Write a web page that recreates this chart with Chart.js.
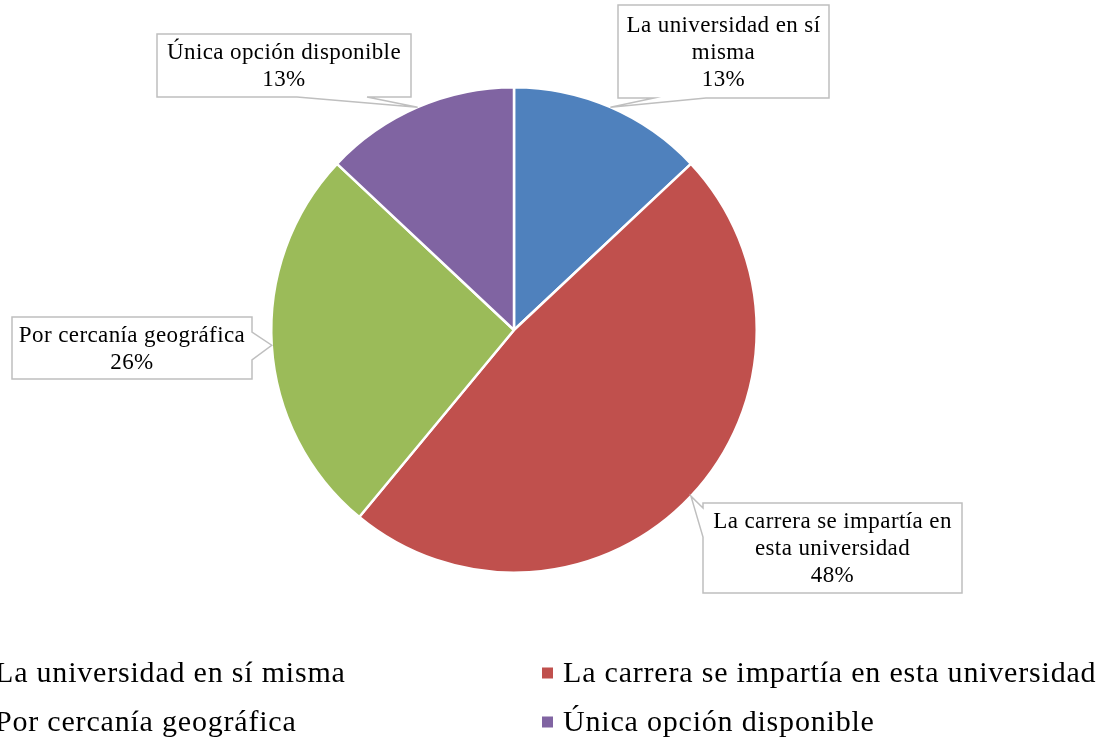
<!DOCTYPE html>
<html lang="es">
<head>
<meta charset="UTF-8">
<title>Motivo de elección de la universidad</title>
<script src="https://cdn.jsdelivr.net/npm/chart.js"></script>
<style>
  html, body { margin: 0; padding: 0; background: #fff; }
  canvas { display: block; }
</style>
</head>
<body>
<canvas id="pieChart" width="1104" height="742"></canvas>
<script>
const categories = [
  'La universidad en sí misma',
  'La carrera se impartía en esta universidad',
  'Por cercanía geográfica',
  'Única opción disponible'
];
const percentages = [13, 48, 26, 13];
// category text as it is wrapped inside the callouts
const calloutLines = [
  ['La universidad en sí', 'misma'],
  ['La carrera se impartía en', 'esta universidad'],
  ['Por cercanía geográfica'],
  ['Única opción disponible']
];
const sliceColors = ['#4F81BD', '#C0504D', '#9BBB59', '#8064A2'];

const SERIF = '"Times New Roman", "Liberation Serif", serif';

// callout boxes: [x, y, w, h], the edge the pointer leaves from and its two base points
const calloutBoxes = [
  { box: [618, 5, 211, 93], side: 'bottom', base: [[706, 98], [654, 98]] },
  { box: [703, 503, 259, 90], side: 'left', base: [[703, 537], [703, 508]] },
  { box: [12, 317, 240, 62], side: 'right', base: [[252, 332], [252, 360]] },
  { box: [157, 34, 254, 63], side: 'bottom', base: [[367, 97], [297, 97]] }
];

const calloutPlugin = {
  id: 'callouts',
  afterDatasetsDraw(chart) {
    const ctx = chart.ctx;
    const arcs = chart.getDatasetMeta(0).data;
    ctx.save();
    arcs.forEach((arc, i) => {
      const c = calloutBoxes[i];
      const p = arc.getProps(['x', 'y', 'startAngle', 'endAngle', 'outerRadius'], true);
      const mid = (p.startAngle + p.endAngle) / 2;
      const tip = [p.x + Math.cos(mid) * p.outerRadius, p.y + Math.sin(mid) * p.outerRadius];
      const [bx, by, bw, bh] = c.box;
      const corners = [[bx, by], [bx + bw, by], [bx + bw, by + bh], [bx, by + bh]];
      const insertAfter = { top: 0, right: 1, bottom: 2, left: 3 }[c.side];
      const pts = [];
      corners.forEach((pt, k) => {
        pts.push(pt);
        if (k === insertAfter) {
          pts.push(c.base[0], tip, c.base[1]);
        }
      });
      ctx.beginPath();
      pts.forEach((pt, k) => k ? ctx.lineTo(pt[0], pt[1]) : ctx.moveTo(pt[0], pt[1]));
      ctx.closePath();
      ctx.fillStyle = '#fff';
      ctx.fill();
      ctx.strokeStyle = '#BFBFBF';
      ctx.lineWidth = 1.5;
      ctx.stroke();

      const lines = calloutLines[i].concat([percentages[i] + '%']);
      const lh = 27;
      const cy = by + bh / 2 + 1;
      const y0 = cy - (lines.length - 1) * lh / 2;
      ctx.fillStyle = '#000';
      ctx.font = '23px ' + SERIF;
      ctx.letterSpacing = '0.4px';
      ctx.textAlign = 'center';
      ctx.textBaseline = 'middle';
      lines.forEach((t, k) => ctx.fillText(t, bx + bw / 2, y0 + k * lh));
    });
    ctx.restore();
  }
};

const legendPlugin = {
  id: 'bottomLegend',
  afterDraw(chart) {
    const ctx = chart.ctx;
    const colX = [-26, 542];
    const rowY = [673, 722];
    ctx.save();
    ctx.font = '30px ' + SERIF;
    ctx.letterSpacing = '0.8px';
    ctx.textAlign = 'left';
    ctx.textBaseline = 'alphabetic';
    chart.data.labels.forEach((label, i) => {
      const x = colX[i % 2];
      const y = rowY[Math.floor(i / 2)];
      ctx.fillStyle = chart.data.datasets[0].backgroundColor[i];
      ctx.fillRect(x, y - 5.5, 11, 11);
      ctx.fillStyle = '#000';
      ctx.fillText(label, x + 21, y + 9);
    });
    ctx.restore();
  }
};

new Chart(document.getElementById('pieChart'), {
  type: 'pie',
  data: {
    labels: categories,
    datasets: [{
      data: percentages,
      backgroundColor: sliceColors,
      borderColor: '#fff',
      borderWidth: 2.5
    }]
  },
  options: {
    responsive: false,
    animation: false,
    layout: {
      padding: { left: 270, right: 346, top: 86, bottom: 168 }
    },
    plugins: {
      legend: { display: false },
      tooltip: { enabled: false }
    }
  },
  plugins: [calloutPlugin, legendPlugin]
});
</script>
</body>
</html>
